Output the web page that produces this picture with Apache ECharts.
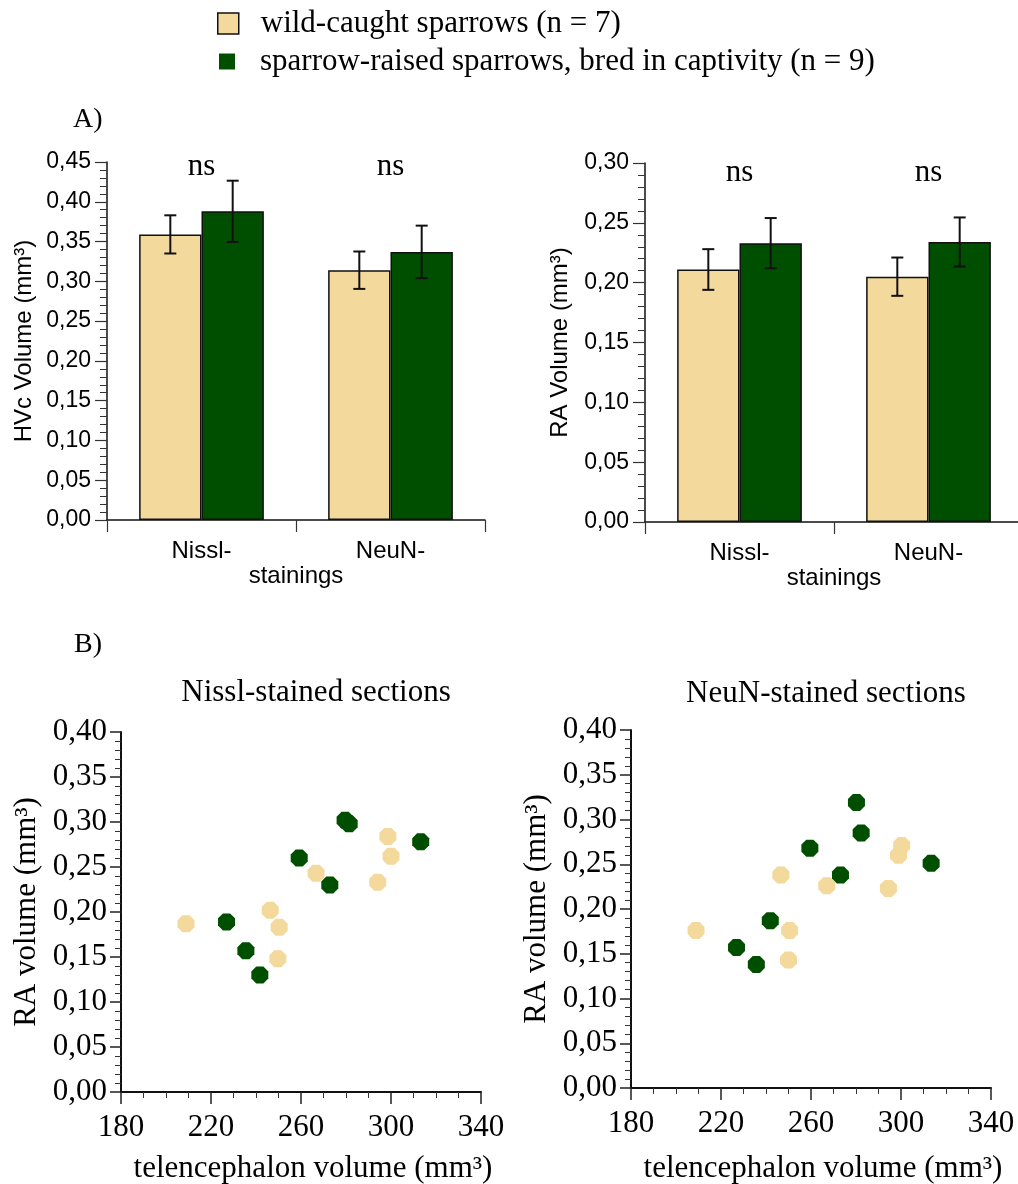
<!DOCTYPE html>
<html>
<head>
<meta charset="utf-8">
<script src="https://cdn.jsdelivr.net/npm/echarts@6/dist/echarts.min.js"></script>
<style>
html,body{margin:0;padding:0;background:#fff;}
#chart{width:1018px;height:1184px;}
</style>
</head>
<body>
<div id="chart"></div>
<script>
// ---------- DATA ----------
const categories = ['Nissl-', 'NeuN-'];
const seriesNames = ['wild-caught sparrows (n = 7)', 'sparrow-raised sparrows, bred in captivity (n = 9)'];

// A) HVc volume (mm³): mean and error
const hvcWild = [0.359, 0.314];
const hvcWildErr = [0.024, 0.0235];
const hvcBred = [0.388, 0.337];
const hvcBredErr = [0.0385, 0.033];

// A) RA volume (mm³): mean and error
const raWild = [0.211, 0.205];
const raWildErr = [0.017, 0.016];
const raBred = [0.233, 0.234];
const raBredErr = [0.021, 0.0205];

const nsLabels = ['ns', 'ns'];

// B) Nissl-stained sections: telencephalon volume vs RA volume
const nisslWildTel = [208.9, 246.3, 250.3, 249.7, 266.7, 298.6, 300.0, 294.1];
const nisslWildRA  = [0.187, 0.202, 0.183, 0.148, 0.243, 0.284, 0.262, 0.233];
const nisslBredTel = [226.9, 235.5, 241.7, 259.2, 272.8, 279.6, 281.4, 313.2];
const nisslBredRA  = [0.189, 0.157, 0.130, 0.260, 0.230, 0.302, 0.298, 0.278];

// B) NeuN-stained sections
const neunWildTel = [208.9, 246.6, 250.5, 250.0, 267.0, 298.9, 300.3, 294.4];
const neunWildRA  = [0.176, 0.238, 0.176, 0.143, 0.226, 0.260, 0.271, 0.223];
const neunBredTel = [226.9, 235.7, 241.9, 259.5, 273.1, 280.2, 282.3, 313.4];
const neunBredRA  = [0.157, 0.138, 0.187, 0.268, 0.238, 0.319, 0.285, 0.251];

// ---------- STYLE ----------
const BEIGE = '#F4D99D';
const GREEN = '#004F00';
const SANS = 'Liberation Sans';
const SERIF = 'Liberation Serif';
const BAR_FRAC = 0.33;

const comma = v => v.toFixed(2).replace('.', ',');
const zip = (a, b) => a.map((v, i) => [v, b[i]]);

function errData(mean, err) {
  return mean.map((m, i) => [i, m - err[i], m + err[i]]);
}
function errSeries(name, xi, yi, mean, err, side) {
  return {
    type: 'custom', name: name, xAxisIndex: xi, yAxisIndex: yi, z: 10,
    data: errData(mean, err),
    renderItem: function (params, api) {
      const cat = api.value(0);
      const band = api.size([1, 0])[0];
      const off = side * band * BAR_FRAC / 2;
      const hi = api.coord([cat, api.value(2)]);
      const lo = api.coord([cat, api.value(1)]);
      const x = hi[0] + off;
      const cap = 6;
      const st = { stroke: '#111', lineWidth: 2 };
      return { type: 'group', children: [
        { type: 'line', shape: { x1: x, y1: hi[1], x2: x, y2: lo[1] }, style: st },
        { type: 'line', shape: { x1: x - cap, y1: hi[1], x2: x + cap, y2: hi[1] }, style: st },
        { type: 'line', shape: { x1: x - cap, y1: lo[1], x2: x + cap, y2: lo[1] }, style: st }
      ]};
    }
  };
}
function nsSeries(xi, yi, yval) {
  return {
    type: 'custom', xAxisIndex: xi, yAxisIndex: yi, z: 11, silent: true,
    data: nsLabels.map((t, i) => [i, yval]),
    renderItem: function (params, api) {
      const p = api.coord([api.value(0), api.value(1)]);
      return { type: 'text', x: p[0], y: p[1], style: {
        text: nsLabels[params.dataIndex], fill: '#000', font: '31px "Liberation Serif"',
        align: 'center', verticalAlign: 'middle' } };
    }
  };
}
function barSeries(name, xi, yi, data, color) {
  return {
    type: 'bar', name: name, xAxisIndex: xi, yAxisIndex: yi,
    data: data, barWidth: (BAR_FRAC * 100) + '%', barGap: '0%',
    itemStyle: { color: color, borderColor: '#111', borderWidth: 1.5 },
    emphasis: { disabled: true }
  };
}
const OCT = 'path://M29,0 L71,0 L100,29 L100,71 L71,100 L29,100 L0,71 L0,29 Z';
function scatterSeries(name, xi, yi, data, color) {
  return {
    type: 'scatter', name: name, xAxisIndex: xi, yAxisIndex: yi,
    data: data, symbol: OCT, symbolSize: 17,
    itemStyle: { color: color, opacity: 1 },
    emphasis: { disabled: true }
  };
}

function barYAxis(gi, max, name, nameGap) {
  return {
    type: 'value', gridIndex: gi, min: 0, max: max, interval: 0.05,
    name: name, nameLocation: 'middle', nameRotate: 90, nameGap: nameGap,
    nameTextStyle: { fontFamily: SANS, fontSize: 24, color: '#000' },
    axisLine: { show: true, lineStyle: { color: '#111', width: 1.5 } },
    axisTick: { show: true, length: 12, lineStyle: { color: '#333', width: 1.2 } },
    minorTick: { show: true, splitNumber: 5, length: 7, lineStyle: { color: '#333', width: 1 } },
    splitLine: { show: false },
    axisLabel: { fontFamily: SANS, fontSize: 23, color: '#000', margin: 16, formatter: comma }
  };
}
function barXAxis(gi) {
  return {
    type: 'category', gridIndex: gi, data: categories,
    name: 'stainings', nameLocation: 'middle', nameGap: 39,
    nameTextStyle: { fontFamily: SANS, fontSize: 24, color: '#000' },
    axisLine: { show: true, lineStyle: { color: '#111', width: 1.5 } },
    axisTick: { show: true, alignWithLabel: false, length: 12, lineStyle: { color: '#333', width: 1.2 } },
    splitLine: { show: false },
    axisLabel: { fontFamily: SANS, fontSize: 24, color: '#000', margin: 19 }
  };
}
function scX(gi, nameGap) {
  return {
    type: 'value', gridIndex: gi, min: 180, max: 340, interval: 40,
    name: 'telencephalon volume (mm³)', nameLocation: 'middle', nameGap: nameGap,
    nameTextStyle: { fontFamily: SERIF, fontSize: 31, color: '#000', padding: [0, 0, 0, 24] },
    axisLine: { show: true, lineStyle: { color: '#111', width: 2 } },
    axisTick: { show: true, length: 12, lineStyle: { color: '#222', width: 1.5 } },
    minorTick: { show: true, splitNumber: 4, length: 6, lineStyle: { color: '#333', width: 1 } },
    splitLine: { show: false },
    axisLabel: { fontFamily: SERIF, fontSize: 31, color: '#000', margin: 20 }
  };
}
function scY(gi) {
  return {
    type: 'value', gridIndex: gi, min: 0, max: 0.4, interval: 0.05,
    name: 'RA volume (mm³)', nameLocation: 'middle', nameRotate: 90, nameGap: 79,
    nameTextStyle: { fontFamily: SERIF, fontSize: 31, color: '#000' },
    axisLine: { show: true, lineStyle: { color: '#111', width: 2 } },
    axisTick: { show: true, length: 11, lineStyle: { color: '#222', width: 1.5 } },
    minorTick: { show: true, splitNumber: 5, length: 6, lineStyle: { color: '#333', width: 1 } },
    splitLine: { show: false },
    axisLabel: { fontFamily: SERIF, fontSize: 31, color: '#000', margin: 14, formatter: comma }
  };
}

const chart = echarts.init(document.getElementById('chart'), null, { renderer: 'canvas' });
chart.setOption({
  backgroundColor: '#fff',
  animation: false,
  title: [
    { text: 'A)', left: 73, top: 106, padding: 0, textStyle: { fontFamily: SERIF, fontSize: 28, fontWeight: 'normal', color: '#000' } },
    { text: 'B)', left: 74, top: 631, padding: 0, textStyle: { fontFamily: SERIF, fontSize: 28, fontWeight: 'normal', color: '#000' } },
    { text: 'Nissl-stained sections', left: 316, top: 677, padding: 0, textAlign: 'center', textStyle: { fontFamily: SERIF, fontSize: 31, fontWeight: 'normal', color: '#000' } },
    { text: 'NeuN-stained sections', left: 826, top: 678, padding: 0, textAlign: 'center', textStyle: { fontFamily: SERIF, fontSize: 31, fontWeight: 'normal', color: '#000' } }
  ],
  legend: [
    {
      data: [{ name: seriesNames[0], itemStyle: { color: BEIGE, borderColor: '#111', borderWidth: 1.5 } }],
      left: 217, top: 8, padding: 0, itemWidth: 21, itemHeight: 21, icon: 'rect', selectedMode: false,
      textStyle: { fontFamily: SERIF, fontSize: 31, color: '#000', padding: [0, 0, 0, 17] }
    },
    {
      data: [{ name: seriesNames[1], itemStyle: { color: GREEN, borderWidth: 0 } }],
      left: 219, top: 46, padding: 0, itemWidth: 16, itemHeight: 16, icon: 'rect', selectedMode: false,
      textStyle: { fontFamily: SERIF, fontSize: 31, color: '#000', padding: [0, 0, 0, 20] }
    }
  ],
  grid: [
    { left: 107, top: 162, width: 378, height: 358, outerBoundsMode: 'none', containLabel: false },
    { left: 645, top: 163, width: 378, height: 359, outerBoundsMode: 'none', containLabel: false },
    { left: 121, top: 732, width: 360, height: 360, outerBoundsMode: 'none', containLabel: false },
    { left: 631, top: 730, width: 360, height: 358, outerBoundsMode: 'none', containLabel: false }
  ],
  xAxis: [barXAxis(0), barXAxis(1), scX(2, 61), scX(3, 65)],
  yAxis: [
    barYAxis(0, 0.45, 'HVc Volume (mm³)', 71),
    barYAxis(1, 0.30, 'RA Volume (mm³)', 73),
    scY(2), scY(3)
  ],
  series: [
    barSeries(seriesNames[0], 0, 0, hvcWild, BEIGE),
    barSeries(seriesNames[1], 0, 0, hvcBred, GREEN),
    errSeries(seriesNames[0], 0, 0, hvcWild, hvcWildErr, -1),
    errSeries(seriesNames[1], 0, 0, hvcBred, hvcBredErr, 1),
    nsSeries(0, 0, 0.444),

    barSeries(seriesNames[0], 1, 1, raWild, BEIGE),
    barSeries(seriesNames[1], 1, 1, raBred, GREEN),
    errSeries(seriesNames[0], 1, 1, raWild, raWildErr, -1),
    errSeries(seriesNames[1], 1, 1, raBred, raBredErr, 1),
    nsSeries(1, 1, 0.292),

    scatterSeries(seriesNames[0], 2, 2, zip(nisslWildTel, nisslWildRA), BEIGE),
    scatterSeries(seriesNames[1], 2, 2, zip(nisslBredTel, nisslBredRA), GREEN),
    scatterSeries(seriesNames[0], 3, 3, zip(neunWildTel, neunWildRA), BEIGE),
    scatterSeries(seriesNames[1], 3, 3, zip(neunBredTel, neunBredRA), GREEN)
  ]
});
</script>
</body>
</html>
